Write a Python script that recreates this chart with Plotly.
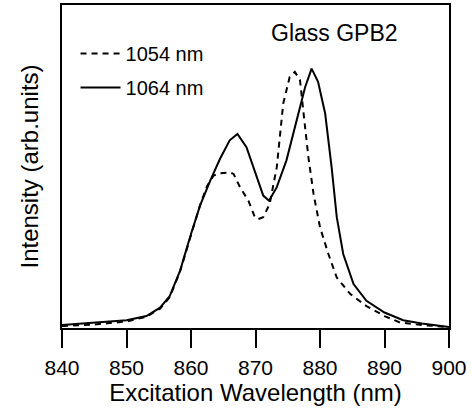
import plotly.graph_objects as go

# 1064 nm (solid)
wl_1064 = [840, 850, 853.1, 855.2, 856.7, 858.3, 860, 861.4, 863, 864.5, 866, 867.2, 868.6,
           870.2, 871.2, 872.1, 873.3, 874.8, 876.4, 877.7, 878.7, 879.7, 880.8, 881.8,
           882.6, 883.6, 885.2, 887.2, 890, 892.9, 895.8, 900]
int_1064 = [0.009, 0.024, 0.037, 0.063, 0.099, 0.177, 0.291, 0.379, 0.457, 0.524, 0.581, 0.601,
            0.56, 0.467, 0.41, 0.394, 0.436, 0.519, 0.643, 0.746, 0.803, 0.762, 0.664, 0.498,
            0.343, 0.229, 0.136, 0.084, 0.048, 0.024, 0.014, 0.003]

# 1054 nm (dashed)
wl_1054 = [840, 845, 850, 853.1, 855.2, 856.7, 858.3, 860, 861.4, 862.5, 863.5, 864.5, 866, 866.6,
           867.6, 868.9, 869.9, 870.4, 871.2, 872.2, 873.3, 874.3, 875.3, 876.1, 876.9,
           877.4, 878.2, 879, 880, 881.3, 882.6, 884.7, 887.2, 890, 892.4, 895.8, 900]
int_1054 = [0.006, 0.011, 0.02, 0.035, 0.06, 0.095, 0.175, 0.29, 0.38, 0.44, 0.472, 0.479, 0.482,
            0.477, 0.436, 0.394, 0.343, 0.337, 0.343, 0.384, 0.498, 0.695, 0.777, 0.793, 0.767,
            0.674, 0.529, 0.415, 0.312, 0.229, 0.156, 0.105, 0.068, 0.037, 0.017, 0.009, 0.003]

x_ticks = [840, 850, 860, 870, 880, 890, 900]

FONT = "Liberation Sans, Arial, sans-serif"

fig = go.Figure()
fig.add_trace(go.Scatter(x=wl_1054, y=int_1054, mode="lines", name="1054 nm", legendgroup="a",
                         line=dict(color="black", width=2, dash="6px,5px")))
fig.add_trace(go.Scatter(x=wl_1064, y=int_1064, mode="lines", name="1064 nm", legendgroup="b",
                         line=dict(color="black", width=2)))

fig.update_layout(
    width=472, height=411,
    margin=dict(l=62, r=23, t=5, b=83),
    paper_bgcolor="white", plot_bgcolor="white",
    font=dict(family=FONT, color="black", size=18),
    showlegend=True,
    legend=dict(x=0.035, y=0.91, xanchor="left", yanchor="top",
                bgcolor="rgba(0,0,0,0)", font=dict(size=20, family=FONT),
                tracegroupgap=5, itemwidth=40),
    annotations=[dict(text="Glass GPB2", x=0.705, y=0.913, xref="paper", yref="paper",
                      xanchor="center", yanchor="middle", showarrow=False,
                      font=dict(size=23, family=FONT))],
)
fig.update_xaxes(range=[840, 900], tickvals=x_ticks, ticks="outside", ticklen=18, tickwidth=2,
                 tickcolor="black", showline=True, linewidth=2, linecolor="black", mirror=True,
                 showgrid=False, zeroline=False, tickfont=dict(size=21), automargin=False,
                 ticklabelstandoff=2,
                 title=dict(text="Excitation Wavelength (nm)", font=dict(size=24), standoff=0))
fig.update_yaxes(range=[0, 1], showticklabels=False, ticks="", showline=True, linewidth=2,
                 linecolor="black", mirror=True, showgrid=False, zeroline=False, automargin=False,
                 title=dict(text="Intensity (arb.units)", font=dict(size=24), standoff=15))

fig.write_html("out.html", config={"displayModeBar": False},
               post_script="document.body.style.margin='0';")
